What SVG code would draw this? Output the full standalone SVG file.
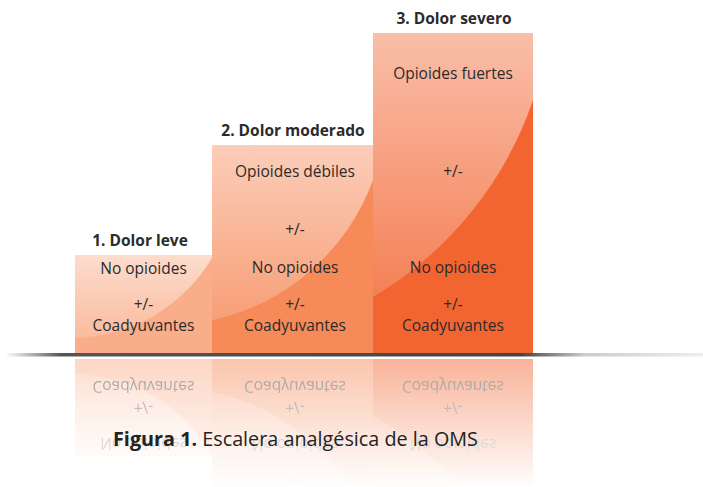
<svg xmlns="http://www.w3.org/2000/svg" xmlns:xlink="http://www.w3.org/1999/xlink" width="703" height="487" viewBox="0 0 703 487">
<style>
.t{font-family:"Open Sans","Noto Sans",sans-serif;font-size:15.5px;fill:#2b2b2b;text-anchor:middle}
.h{font-weight:bold}
.cap{font-family:"Open Sans","Noto Sans",sans-serif;font-size:19.8px;fill:#222}
</style>
<defs>
<linearGradient id="hl" x1="0" y1="0" x2="0" y2="1">
<stop offset="0" stop-color="#fff" stop-opacity="0.58"/>
<stop offset="1" stop-color="#fff" stop-opacity="0.18"/>
</linearGradient>
<linearGradient id="line" x1="0" y1="0" x2="1" y2="0">
<stop offset="0" stop-color="#666" stop-opacity="0"/>
<stop offset="0.08" stop-color="#555"/>
<stop offset="0.74" stop-color="#444"/>
<stop offset="0.83" stop-color="#ccc"/>
<stop offset="1" stop-color="#eee"/>
</linearGradient>
<linearGradient id="fadeg" gradientUnits="userSpaceOnUse" x1="0" y1="358" x2="0" y2="490">
<stop offset="0" stop-color="#fff" stop-opacity="0.5"/>
<stop offset="1" stop-color="#fff" stop-opacity="0"/>
</linearGradient>
<mask id="fade" maskUnits="userSpaceOnUse" x="0" y="357" width="703" height="130">
<rect x="0" y="357" width="703" height="130" fill="url(#fadeg)"/>
</mask>
</defs>
<g id="steps">
<g id="step1">
<rect x="75" y="255" width="137" height="98" fill="#f9ad89"/>
<path d="M75,255 H212 V258 A164,164 0 0 1 75,338 Z" fill="url(#hl)"/>
<text class="t" x="143.5" y="274">No opioides</text>
<text class="t" x="143.5" y="310">+/-</text>
<text class="t" x="143.5" y="331">Coadyuvantes</text>
</g>
<g id="step2">
<rect x="212" y="145" width="161" height="208" fill="#f68a59"/>
<path d="M212,145 H373 V180 A221,221 0 0 1 213,320 L212,320 Z" fill="url(#hl)"/>
<text class="t" x="295" y="177">Opioides débiles</text>
<text class="t" x="295" y="235">+/-</text>
<text class="t" x="295" y="273">No opioides</text>
<text class="t" x="295" y="310">+/-</text>
<text class="t" x="295" y="331">Coadyuvantes</text>
</g>
<g id="step3">
<rect x="373" y="33" width="160" height="320" fill="#f26531"/>
<path d="M373,33 H533 V100 A366,366 0 0 1 373,297 Z" fill="url(#hl)"/>
<text class="t" x="453" y="79">Opioides fuertes</text>
<text class="t" x="453" y="177">+/-</text>
<text class="t" x="453" y="273">No opioides</text>
<text class="t" x="453" y="310">+/-</text>
<text class="t" x="453" y="331">Coadyuvantes</text>
</g>
</g>
<g id="labels">
<text class="t h" x="140" y="246">1. Dolor leve</text>
<text class="t h" x="293" y="136">2. Dolor moderado</text>
<text class="t h" x="454" y="24">3. Dolor severo</text>
</g>
<g id="reflection" mask="url(#fade)">
<use xlink:href="#steps" transform="translate(0,712) scale(1,-1)"/>
</g>
<rect id="floor" x="5" y="353" width="698" height="3.5" fill="url(#line)"/>
<text id="caption" class="cap" x="113" y="446"><tspan font-weight="bold">Figura 1.</tspan> Escalera analgésica de la OMS</text>
</svg>
